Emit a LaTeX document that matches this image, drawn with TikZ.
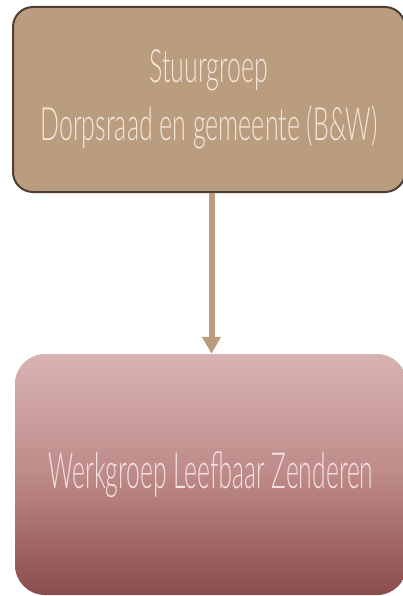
\documentclass[tikz,border=0pt]{standalone}
\usepackage{fontspec}
\IfFontExistsTF{Lato Light}{%
  \newfontfamily\topfont{Lato Light}[FakeStretch=0.543]%
  \newfontfamily\botfont{Lato Light}[FakeStretch=0.494]%
}{%
  \newfontfamily\topfont{Lato}[FakeStretch=0.54]%
  \newfontfamily\botfont{Lato}[FakeStretch=0.485]%
}
\usetikzlibrary{arrows.meta}
\definecolor{tan}{HTML}{BA9C7F}
\definecolor{tanborder}{HTML}{4F3F33}
\definecolor{creamtext}{HTML}{F5E6D8}
\definecolor{rosetop}{HTML}{D7B3B2}
\definecolor{rosemid}{HTML}{BD8A88}
\definecolor{rosebot}{HTML}{8B4D4B}
\definecolor{pinktext}{HTML}{F5E0DF}
\tikzset{
  topbox/.style={draw=tanborder, line width=2pt, fill=tan, rounded corners=20pt,
    minimum width=392pt, minimum height=185pt, inner sep=0pt, align=center,
    text=creamtext, font=\topfont\fontsize{46}{58}\selectfont},
  botbox/.style={rounded corners=30pt, top color=rosetop, bottom color=rosebot, middle color=rosemid,
    minimum width=392pt, minimum height=241pt, inner sep=0pt, align=center,
    text=pinktext, font=\botfont\fontsize{50}{60}\selectfont},
  arr/.style={draw=tan, line width=6pt, -{Triangle[width=18pt,length=17pt]}, color=tan}
}
\begin{document}
\begin{tikzpicture}[x=1pt,y=-1pt]
\useasboundingbox (0,0) rectangle (403,596);
\clip (0,0) rectangle (403,596);
\node[topbox] (top) at (209,99.5) {Stuurgroep\\Dorpsraad en gemeente (B\&W)};
\node[botbox] (bot) at (211,474.5) {Werkgroep Leefbaar Zenderen};
\coordinate (a) at (211.5,300);
\draw[arr] (top.south -| a) -- (bot.north -| a);
\end{tikzpicture}
\end{document}
